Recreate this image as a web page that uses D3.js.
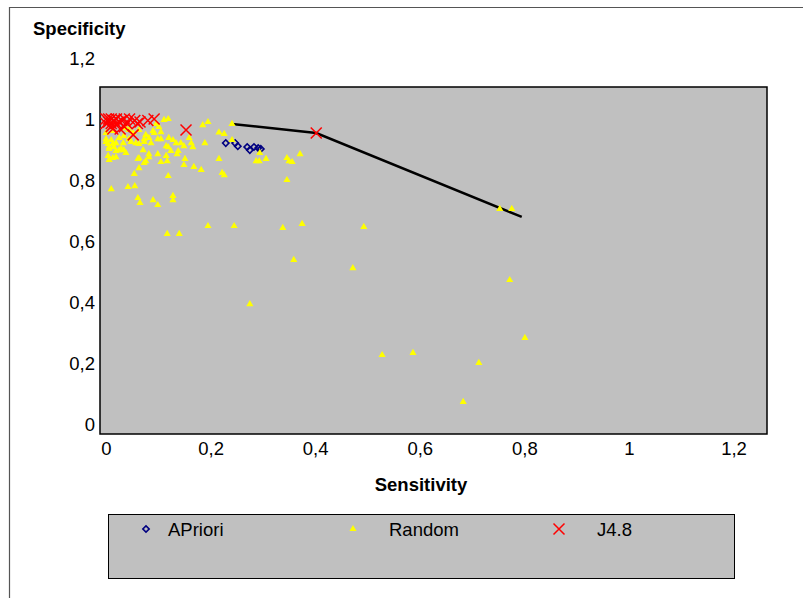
<!DOCTYPE html>
<html>
<head>
<meta charset="utf-8">
<title>Specificity vs Sensitivity</title>
<script src="https://cdn.jsdelivr.net/npm/d3@7"></script>
<style>
  body { margin: 0; background: #fff; }
  text { font-family: "Liberation Sans", Arial, sans-serif; fill: #000; }
</style>
</head>
<body>
<svg width="803" height="598"></svg>
<script>
// tick values and labels
var tickValues = [0, 0.2, 0.4, 0.6, 0.8, 1, 1.2];
var tickLabels = ["0", "0,2", "0,4", "0,6", "0,8", "1", "1,2"];

var seriesNames = ["APriori", "Random", "J4.8"];

// [sensitivity, specificity]
var apriori = [
  [0.229, 0.921], [0.247, 0.921], [0.252, 0.911], [0.270, 0.908],
  [0.275, 0.898], [0.283, 0.908], [0.291, 0.905], [0.296, 0.902]
];

var random = [
  [0.119, 1.000], [0.111, 0.997], [0.185, 0.980], [0.195, 0.990], [0.241, 0.984],
  [0.216, 0.956], [0.226, 0.951], [0.241, 0.931], [0.128, 0.931], [0.099, 0.934],
  [0.082, 0.938], [0.076, 0.948], [0.057, 0.921], [0.073, 0.925], [0.086, 0.921],
  [0.134, 0.921], [0.143, 0.921], [0.159, 0.938], [0.163, 0.921], [0.166, 0.908],
  [0.149, 0.911], [0.119, 0.908], [0.189, 0.921], [0.138, 0.895], [0.136, 0.885],
  [0.115, 0.879], [0.117, 0.862], [0.151, 0.869], [0.149, 0.849], [0.168, 0.843],
  [0.182, 0.833], [0.216, 0.869], [0.222, 0.823], [0.226, 0.816], [0.119, 0.813],
  [0.105, 0.859], [0.082, 0.875], [0.076, 0.862], [0.073, 0.856], [0.063, 0.839],
  [0.061, 0.869], [0.054, 0.820], [0.042, 0.777], [0.010, 0.770], [0.055, 0.780],
  [0.061, 0.741], [0.065, 0.725], [0.090, 0.734], [0.099, 0.718], [0.128, 0.748],
  [0.128, 0.734], [0.287, 0.862], [0.293, 0.862], [0.294, 0.889], [0.006, 0.866],
  [0.019, 0.875], [0.025, 0.898], [0.038, 0.889], [0.033, 0.921], [0.006, 0.908],
  [0.000, 0.925], [0.010, 0.931], [0.048, 0.925], [0.063, 0.964], [0.052, 0.954],
  [0.044, 0.964], [0.101, 0.974], [0.105, 0.957], [0.092, 0.954], [0.117, 0.623],
  [0.140, 0.623], [0.195, 0.649], [0.245, 0.649], [0.338, 0.643], [0.375, 0.656],
  [0.493, 0.646], [0.359, 0.538], [0.472, 0.511], [0.346, 0.800], [0.306, 0.869],
  [0.346, 0.872], [0.350, 0.862], [0.356, 0.859], [0.371, 0.885], [0.275, 0.393],
  [0.753, 0.705], [0.776, 0.705], [0.772, 0.472], [0.801, 0.282], [0.528, 0.226],
  [0.587, 0.233], [0.713, 0.200], [0.683, 0.072], [0.096, 0.984], [0.090, 0.961],
  [0.073, 0.934], [0.063, 0.918], [0.044, 0.934], [0.034, 0.944], [0.025, 0.938],
  [0.019, 0.921], [0.013, 0.918], [0.004, 0.918], [0.000, 0.934], [0.006, 0.902],
  [0.019, 0.895], [0.029, 0.902], [0.004, 0.879], [0.013, 0.872], [0.115, 0.911],
  [0.124, 0.895], [0.105, 0.934], [0.120, 0.938], [0.099, 0.885], [0.082, 0.885],
  [0.063, 0.872], [0.071, 0.898], [0.013, 0.961], [0.038, 0.970], [0.000, 0.954],
  [0.015, 0.908], [0.034, 0.898]
];

var j48 = [
  [0.000, 1.000], [0.005, 1.000], [0.010, 1.000], [0.015, 0.995], [0.020, 1.000],
  [0.025, 0.990], [0.000, 0.985], [0.005, 0.990], [0.010, 0.985], [0.020, 0.985],
  [0.030, 0.995], [0.035, 1.000], [0.045, 1.000], [0.040, 0.985], [0.055, 0.995],
  [0.065, 0.990], [0.080, 0.995], [0.092, 1.000], [0.013, 0.967], [0.027, 0.967],
  [0.052, 0.948], [0.153, 0.964], [0.402, 0.954], [0.010, 0.975], [0.035, 0.975],
  [0.060, 0.985]
];

// convex hull line
var hull = [[0.241, 0.984], [0.402, 0.954], [0.795, 0.679]];

var svg = d3.select("svg");

var x = d3.scaleLinear().domain([-0.0115, 1.264]).range([100, 767]);
var y = d3.scaleLinear().domain([-0.033, 1.105]).range([434, 87]);

// outer frame
svg.append("path")
    .attr("d", "M9.5,598V7.5H803")
    .attr("fill", "none")
    .attr("stroke", "#555")
    .attr("stroke-width", 1.2);

// plot area
svg.append("rect")
    .attr("x", x.range()[0]).attr("y", y.range()[1])
    .attr("width", x.range()[1] - x.range()[0])
    .attr("height", y.range()[0] - y.range()[1])
    .attr("fill", "#c0c0c0")
    .attr("stroke", "#000")
    .attr("stroke-width", 1.5);

// axes (labels only)
var xAxis = svg.append("g")
    .attr("transform", "translate(0,442)")
    .call(d3.axisBottom(x).tickValues(tickValues).tickSize(0)
      .tickFormat(function(d, i) { return tickLabels[i]; }));
var yAxis = svg.append("g")
    .attr("transform", "translate(95,0)")
    .call(d3.axisLeft(y).tickValues(tickValues).tickSize(0)
      .tickFormat(function(d, i) { return tickLabels[i]; }));
svg.selectAll(".domain").remove();
svg.selectAll(".tick text")
    .attr("font-family", "Liberation Sans, Arial, sans-serif")
    .attr("font-size", 18.5)
    .attr("fill", "#000");
yAxis.selectAll(".tick text").attr("dy", "0.36em").attr("x", 0);
xAxis.selectAll(".tick text").attr("dy", "0.71em").attr("y", 0);

// axis titles
svg.append("text")
    .attr("x", 33).attr("y", 35)
    .attr("font-size", 18.5).attr("font-weight", "bold")
    .text("Specificity");
svg.append("text")
    .attr("x", 421).attr("y", 491)
    .attr("text-anchor", "middle")
    .attr("font-size", 18.5).attr("font-weight", "bold")
    .text("Sensitivity");

var plot = svg.append("g");

// hull line
plot.append("path")
    .datum(hull)
    .attr("fill", "none")
    .attr("stroke", "#000")
    .attr("stroke-width", 2.5)
    .attr("d", d3.line().x(function(d) { return x(d[0]); }).y(function(d) { return y(d[1]); }));

var diamond = d3.symbol().type(d3.symbolSquare).size(20);
var triangle = d3.symbol().type(d3.symbolTriangle).size(22);
var cross = "M-5.5,-5.5L5.5,5.5M-5.5,5.5L5.5,-5.5";

plot.selectAll(".apriori")
  .data(apriori)
  .enter().append("path")
    .attr("class", "apriori")
    .attr("d", diamond)
    .attr("transform", function(d) { return "translate(" + x(d[0]) + "," + y(d[1]) + ") rotate(45)"; })
    .attr("fill", "none")
    .attr("stroke", "#000080")
    .attr("stroke-width", 1.6);

plot.selectAll(".random")
  .data(random)
  .enter().append("path")
    .attr("class", "random")
    .attr("d", triangle)
    .attr("transform", function(d) { return "translate(" + x(d[0]) + "," + y(d[1]) + ")"; })
    .attr("fill", "#ffff00");

plot.selectAll(".j48")
  .data(j48)
  .enter().append("path")
    .attr("class", "j48")
    .attr("d", cross)
    .attr("transform", function(d) { return "translate(" + x(d[0]) + "," + y(d[1]) + ")"; })
    .attr("fill", "none")
    .attr("stroke", "#ff0000")
    .attr("stroke-width", 1.5);

// legend
var legend = svg.append("g");
legend.append("rect")
    .attr("x", 108.5).attr("y", 514.5)
    .attr("width", 626).attr("height", 64)
    .attr("fill", "#c0c0c0")
    .attr("stroke", "#000")
    .attr("stroke-width", 1);

var legendX = [146, 353, 559];
var legendText = [168, 389, 597];
legend.append("path")
    .attr("d", diamond)
    .attr("transform", "translate(" + legendX[0] + ",529) rotate(45)")
    .attr("fill", "none").attr("stroke", "#000080").attr("stroke-width", 1.6);
legend.append("path")
    .attr("d", triangle)
    .attr("transform", "translate(" + legendX[1] + ",529)")
    .attr("fill", "#ffff00");
legend.append("path")
    .attr("d", cross)
    .attr("transform", "translate(" + legendX[2] + ",529)")
    .attr("fill", "none").attr("stroke", "#ff0000").attr("stroke-width", 1.5);

legend.selectAll(".ltext")
  .data(seriesNames)
  .enter().append("text")
    .attr("class", "ltext")
    .attr("x", function(d, i) { return legendText[i]; })
    .attr("y", 536)
    .attr("font-size", 18.5)
    .text(function(d) { return d; });
</script>
</body>
</html>
